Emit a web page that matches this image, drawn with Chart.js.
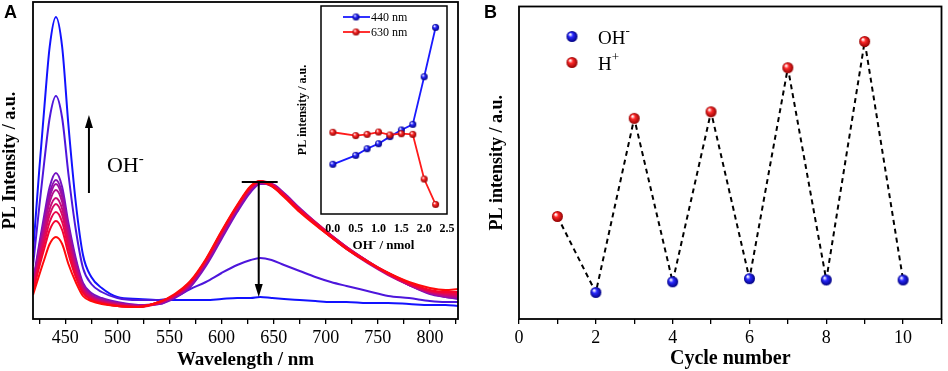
<!DOCTYPE html>
<html>
<head>
<meta charset="utf-8">
<script src="https://cdn.jsdelivr.net/npm/chart.js@4.4.1/dist/chart.umd.min.js"></script>
<style>
  html, body { margin: 0; padding: 0; background: #fff; }
  #wrap { position: relative; width: 948px; height: 371px; overflow: hidden; }
  canvas { position: absolute; }
  .panel { position: absolute; font: bold 18px "Liberation Sans", Arial, sans-serif; line-height: 1; }
</style>
</head>
<body>
<div id="wrap">
  <canvas id="spectraChart" width="470" height="371" style="left:0;top:0"></canvas>
  <canvas id="insetChart" width="170" height="252" style="left:290px;top:0"></canvas>
  <canvas id="cycleChart" width="468" height="371" style="left:480px;top:0"></canvas>
  <div class="panel" style="left:4px;top:3px">A</div>
  <div class="panel" style="left:484px;top:3px">B</div>
</div>
<script>
// ---- panel A : PL spectra while adding OH- (a.u.) ----
const wavelengths = [419, 425, 430, 435, 441, 447, 453, 460, 467, 475, 485, 500, 520,
  540, 555, 570, 585, 600, 615, 628, 637, 648, 660, 675, 690, 705, 720, 740, 760, 780, 800, 815, 827];

const pl_0 = [66, 149, 213, 272, 302, 272, 194, 117, 64, 42, 31, 22, 20,
  19, 19, 19, 19, 20, 21, 21, 22, 21, 20, 19, 18, 17, 17, 16, 16, 15, 14, 14, 13];
const pl_1 = [53, 112, 159, 201, 223, 201, 145, 90, 51, 35, 27, 21, 19,
  19, 22, 30, 37, 46, 54, 59, 61, 59, 54, 48, 42, 37, 33, 28, 23, 21, 18, 17, 17];
const pl_2 = [37, 75, 105, 132, 146, 132, 96, 61, 36, 26, 21, 17, 14,
  15, 21, 32, 53, 80, 107, 127, 135, 135, 126, 111, 97, 84, 72, 58, 45, 34, 25, 22, 20];
const pl_3 = [35, 72, 100, 126, 139, 126, 92, 58, 34, 24, 20, 16, 14,
  15, 22, 33, 55, 82, 109, 129, 136, 134, 125, 110, 96, 83, 71, 57, 45, 34, 26, 22, 21];
const pl_4 = [35, 70, 97, 122, 135, 122, 89, 56, 34, 24, 19, 16, 13,
  16, 22, 34, 56, 83, 110, 130, 137, 135, 125, 109, 96, 84, 72, 58, 45, 35, 27, 23, 22];
const pl_5 = [33, 66, 93, 117, 129, 117, 85, 54, 32, 23, 18, 15, 13,
  16, 23, 35, 57, 84, 111, 130, 136, 133, 123, 108, 95, 82, 70, 56, 44, 34, 26, 23, 22];
const pl_6 = [31, 63, 87, 110, 121, 110, 80, 51, 31, 22, 18, 15, 13,
  16, 23, 35, 58, 85, 112, 131, 137, 134, 124, 109, 96, 83, 71, 57, 45, 35, 27, 24, 23];
const pl_7 = [30, 59, 83, 104, 115, 104, 76, 48, 29, 21, 17, 14, 12,
  16, 24, 36, 58, 86, 112, 131, 138, 135, 125, 110, 97, 84, 72, 58, 46, 36, 28, 25, 24];
const pl_8 = [28, 56, 77, 97, 107, 97, 71, 45, 27, 20, 16, 13, 12,
  17, 24, 37, 59, 87, 113, 132, 137, 133, 123, 108, 95, 82, 70, 57, 45, 35, 28, 26, 25];
const pl_9 = [27, 52, 71, 89, 98, 89, 65, 42, 26, 19, 16, 13, 12,
  17, 24, 37, 59, 87, 113, 132, 138, 134, 124, 109, 96, 83, 71, 58, 46, 36, 29, 27, 27];
const pl_10 = [24, 44, 60, 75, 82, 75, 55, 37, 23, 18, 15, 13, 12,
  17, 25, 38, 60, 88, 114, 133, 138, 133, 122, 107, 94, 82, 70, 57, 46, 37, 31, 29, 30];

const spectra = [pl_0, pl_1, pl_2, pl_3, pl_4, pl_5, pl_6, pl_7, pl_8, pl_9, pl_10];
const curveColors = ['#1212ff', '#4d16dc', '#7412c2', '#8a10b2', '#9e0ea2', '#b20c8e',
  '#c60a78', '#d80862', '#e8064a', '#f40430', '#ff0a0a'];
const xTicksA = [425, 450, 475, 500, 525, 550, 575, 600, 625, 650, 675, 700, 725, 750, 775, 800, 825];

// annotations (nm, a.u.)
const upArrow = { nm: 472.7, from: 126, to: 204 };
const downArrow = { nm: 635.7, from: 137, to: 22 };
const capBar = { from: 619.4, to: 653.9, at: 137 };
const ohLabel = { nm: 490, at: 147 };

// ---- inset : intensity at 440 / 630 nm vs OH- amount ----
const ohAmount = [0, 0.5, 0.75, 1.0, 1.25, 1.5, 1.75, 2.0, 2.25];
const peak440 = [23.9, 28.2, 31.4, 33.8, 37.2, 40.4, 43.1, 66.0, 89.7];
const peak630 = [39.3, 37.7, 38.3, 39.4, 38.0, 38.6, 38.3, 16.8, 4.6];
const xTicksInset = [0, 0.5, 1.0, 1.5, 2.0, 2.5];
const peak440Label = '440 nm';
const peak630Label = '630 nm';

// ---- panel B : cycling ----
const cycleNumber = [1, 2, 3, 4, 5, 6, 7, 8, 9, 10];
const cycleIntensity = [32.8, 8.5, 64.2, 11.9, 66.3, 12.9, 80.4, 12.5, 88.8, 12.5];
const cycleAdded = ['H+', 'OH-', 'H+', 'OH-', 'H+', 'OH-', 'H+', 'OH-', 'H+', 'OH-'];

const SERIF = '"Liberation Serif", "Times New Roman", serif';
Chart.defaults.font.family = SERIF;
Chart.defaults.color = '#000';

function ball(color, dark, r) {
  const c = document.createElement('canvas');
  c.width = c.height = 2 * r + 2;
  const g = c.getContext('2d');
  const m = r + 1;
  const grad = g.createRadialGradient(m - r * 0.35, m - r * 0.4, r * 0.1, m, m, r);
  grad.addColorStop(0, '#ffffff');
  grad.addColorStop(0.35, color);
  grad.addColorStop(1, dark);
  g.fillStyle = grad;
  g.beginPath();
  g.arc(m, m, r, 0, Math.PI * 2);
  g.fill();
  return c;
}
const blueBallS = ball('#2a2aff', '#000080', 3.5);
const redBallS = ball('#ff2a2a', '#900000', 3.5);
const blueBall = ball('#2a2aff', '#000080', 5.5);
const redBall = ball('#ff2a2a', '#900000', 5.5);

const frame = {
  id: 'frame',
  beforeDraw(chart, args, opts) {
    if (!opts.fill) return;
    const { ctx, chartArea: a } = chart;
    ctx.save();
    ctx.fillStyle = '#fff';
    ctx.fillRect(a.left, a.top, a.right - a.left, a.bottom - a.top);
    ctx.restore();
  },
  afterDraw(chart, args, opts) {
    const { ctx, chartArea: a } = chart;
    ctx.save();
    ctx.strokeStyle = '#000';
    ctx.lineWidth = opts.width || 1.8;
    ctx.strokeRect(a.left, a.top, a.right - a.left, a.bottom - a.top);
    ctx.restore();
  }
};

function supText(ctx, base, sup, x, y, size, supSize, rise, weight) {
  const w0 = weight ? weight + ' ' : '';
  ctx.font = w0 + size + 'px ' + SERIF;
  ctx.fillText(base, x, y);
  const w = ctx.measureText(base).width;
  ctx.font = w0 + supSize + 'px ' + SERIF;
  ctx.fillText(sup, x + w, y - rise);
  return x + w + ctx.measureText(sup).width;
}

function vArrow(ctx, x, y1, y2) {
  const dir = y2 < y1 ? -1 : 1;
  const head = 13;
  ctx.beginPath();
  ctx.moveTo(x, y1);
  ctx.lineTo(x, y2 - dir * head);
  ctx.stroke();
  ctx.beginPath();
  ctx.moveTo(x, y2);
  ctx.lineTo(x - 4, y2 - dir * head);
  ctx.lineTo(x + 4, y2 - dir * head);
  ctx.closePath();
  ctx.fill();
}

const annotateA = {
  id: 'annotateA',
  afterDatasetsDraw(chart) {
    const { ctx, scales: { x, y } } = chart;
    ctx.save();
    ctx.strokeStyle = '#000';
    ctx.fillStyle = '#000';
    ctx.lineWidth = 2;
    vArrow(ctx, x.getPixelForValue(upArrow.nm), y.getPixelForValue(upArrow.from), y.getPixelForValue(upArrow.to));
    vArrow(ctx, x.getPixelForValue(downArrow.nm), y.getPixelForValue(downArrow.from), y.getPixelForValue(downArrow.to));
    ctx.beginPath();
    ctx.moveTo(x.getPixelForValue(capBar.from), y.getPixelForValue(capBar.at));
    ctx.lineTo(x.getPixelForValue(capBar.to), y.getPixelForValue(capBar.at));
    ctx.stroke();
    ctx.textBaseline = 'alphabetic';
    supText(ctx, 'OH', '-', x.getPixelForValue(ohLabel.nm), y.getPixelForValue(ohLabel.at), 22, 15, 9);
    ctx.restore();
  }
};

new Chart(document.getElementById('spectraChart'), {
  type: 'line',
  data: {
    datasets: spectra.map((s, i) => ({
      data: wavelengths.map((w, j) => ({ x: w, y: s[j] })),
      borderColor: curveColors[i],
      borderWidth: 2,
      pointRadius: 0,
      cubicInterpolationMode: 'monotone',
      order: spectra.length - 1 - i
    }))
  },
  options: {
    responsive: false,
    animation: false,
    layout: { padding: { top: 2, right: 12, left: 0, bottom: 0 } },
    plugins: { legend: { display: false }, tooltip: { enabled: false }, frame: { width: 1.8 } },
    scales: {
      x: {
        type: 'linear', min: 419, max: 827,
        afterBuildTicks: s => { s.ticks = xTicksA.map(v => ({ value: v })); },
        afterFit: s => { s.height = 52; },
        ticks: { callback: v => (v % 50 === 0 ? v : ''), font: { size: 18 }, padding: 3, maxRotation: 0, autoSkip: false },
        grid: { drawOnChartArea: false, tickLength: 5, color: '#000', lineWidth: 1.3 },
        border: { display: false },
        title: { display: true, text: 'Wavelength / nm', font: { size: 19, weight: 'bold' }, padding: 0 }
      },
      y: {
        min: 0, max: 317,
        ticks: { display: false }, grid: { display: false }, border: { display: false },
        afterFit: s => { s.width = 33; },
        title: { display: true, text: 'PL Intensity / a.u.', font: { size: 18, weight: 'bold' }, padding: 0 }
      }
    }
  },
  plugins: [frame, annotateA]
});

// inset legend (line + ball) and x title with superscript
const insetExtras = {
  id: 'insetExtras',
  afterDraw(chart) {
    const { ctx, chartArea: a } = chart;
    const rows = [[peak440Label, '#1a1aff', blueBallS, 11], [peak630Label, '#ff1a1a', redBallS, 26]];
    ctx.save();
    rows.forEach(([label, col, img, dy]) => {
      const y = a.top + dy;
      ctx.strokeStyle = col;
      ctx.lineWidth = 1.8;
      ctx.beginPath();
      ctx.moveTo(a.left + 22, y);
      ctx.lineTo(a.left + 49, y);
      ctx.stroke();
      ctx.drawImage(img, a.left + 35 - img.width / 2, y - img.height / 2);
      ctx.fillStyle = '#000';
      ctx.font = '12px ' + SERIF;
      ctx.textBaseline = 'middle';
      ctx.fillText(label, a.left + 50, y + 1);
    });
    ctx.fillStyle = '#000';
    ctx.textBaseline = 'alphabetic';
    ctx.font = 'bold 13px ' + SERIF;
    const full = 'OH- / nmol';
    const x0 = (a.left + a.right) / 2 - ctx.measureText(full).width / 2;
    const x1 = supText(ctx, 'OH', '-', x0, a.bottom + 35, 13, 10, 5, 'bold');
    ctx.font = 'bold 13px ' + SERIF;
    ctx.fillText(' / nmol', x1, a.bottom + 35);
    ctx.restore();
  }
};

new Chart(document.getElementById('insetChart'), {
  type: 'line',
  data: {
    datasets: [
      { data: ohAmount.map((v, i) => ({ x: v, y: peak440[i] })), borderColor: '#1a1aff', borderWidth: 1.8,
        pointStyle: blueBallS, pointRadius: 3.5, order: 1 },
      { data: ohAmount.map((v, i) => ({ x: v, y: peak630[i] })), borderColor: '#ff1a1a', borderWidth: 1.8,
        pointStyle: redBallS, pointRadius: 3.5, order: 0 }
    ]
  },
  options: {
    responsive: false,
    animation: false,
    layout: { padding: { top: 6, right: 13, left: 0, bottom: 0 } },
    plugins: { legend: { display: false }, tooltip: { enabled: false }, frame: { fill: true, width: 1.5 } },
    scales: {
      x: {
        type: 'linear', min: -0.26, max: 2.5,
        afterBuildTicks: s => { s.ticks = xTicksInset.map(v => ({ value: v })); },
        afterFit: s => { s.height = 38; },
        ticks: { callback: v => v.toFixed(1), font: { size: 12, weight: 'bold' }, padding: 0, maxRotation: 0, autoSkip: false },
        grid: { display: false }, border: { display: false },
        title: { display: false }
      },
      y: {
        min: 0, max: 100,
        ticks: { display: false }, grid: { display: false }, border: { display: false },
        afterFit: s => { s.width = 31; },
        title: { display: true, text: 'PL intensity / a.u.', font: { size: 12, weight: 'bold' }, padding: { top: 6 } }
      }
    }
  },
  plugins: [frame, insetExtras]
});

const legendB = {
  id: 'legendB',
  afterDraw(chart) {
    const { ctx, chartArea: a } = chart;
    ctx.save();
    ctx.fillStyle = '#000';
    ctx.textBaseline = 'alphabetic';
    ctx.drawImage(blueBall, a.left + 53 - blueBall.width / 2, a.top + 30 - blueBall.height / 2);
    supText(ctx, 'OH', '-', a.left + 79, a.top + 37, 19, 13, 9);
    ctx.drawImage(redBall, a.left + 53 - redBall.width / 2, a.top + 56 - redBall.height / 2);
    supText(ctx, 'H', '+', a.left + 79, a.top + 63, 19, 13, 9);
    ctx.restore();
  }
};

const pts = cycleNumber.map((c, i) => ({ x: c, y: cycleIntensity[i] }));
new Chart(document.getElementById('cycleChart'), {
  type: 'line',
  data: {
    datasets: [
      { data: pts, borderColor: '#000', borderWidth: 2, borderDash: [5, 4], pointRadius: 0, order: 2 },
      { data: pts.filter((p, i) => cycleAdded[i] === 'OH-'), showLine: false, pointStyle: blueBall, pointRadius: 5.5, order: 0 },
      { data: pts.filter((p, i) => cycleAdded[i] === 'H+'), showLine: false, pointStyle: redBall, pointRadius: 5.5, order: 1 }
    ]
  },
  options: {
    responsive: false,
    animation: false,
    layout: { padding: { top: 3, right: 2, left: 0, bottom: 0 } },
    plugins: { legend: { display: false }, tooltip: { enabled: false }, frame: { width: 1.8 } },
    scales: {
      x: {
        type: 'linear', min: 0, max: 11,
        afterBuildTicks: s => { s.ticks = [0, 1, 2, 3, 4, 5, 6, 7, 8, 9, 10, 11].map(v => ({ value: v })); },
        afterFit: s => { s.height = 52; },
        ticks: { callback: v => (v % 2 === 0 && v <= 10 ? v : ''), font: { size: 18 }, padding: 3, maxRotation: 0, autoSkip: false },
        grid: { drawOnChartArea: false, tickLength: 5, color: '#000', lineWidth: 1.3 },
        border: { display: false },
        title: { display: true, text: 'Cycle number', font: { size: 20, weight: 'bold' }, padding: 0 }
      },
      y: {
        min: 0, max: 100,
        ticks: { display: false }, grid: { display: false }, border: { display: false },
        afterFit: s => { s.width = 39; },
        title: { display: true, text: 'PL intensity / a.u.', font: { size: 18, weight: 'bold' }, padding: { top: 7 } }
      }
    }
  },
  plugins: [frame, legendB]
});
</script>
</body>
</html>
